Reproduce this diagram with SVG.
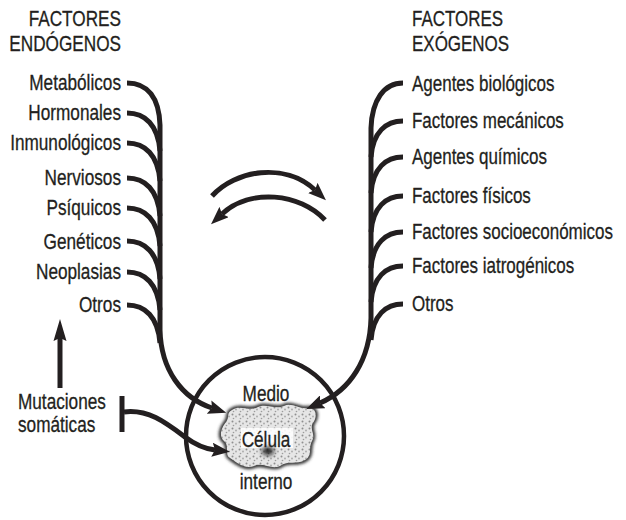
<svg xmlns="http://www.w3.org/2000/svg" width="626" height="520" viewBox="0 0 626 520">
  <style>
    .lbl { font-family: "Liberation Sans", Arial, sans-serif; font-size: 21.5px; fill: #231f20; stroke: #231f20; stroke-width: 0.3; }
    .end { text-anchor: end; }
    .mid { text-anchor: middle; }
    .wire { fill: none; stroke: #231f20; stroke-width: 5; stroke-linecap: butt; }
    .ring { fill: none; stroke: #231f20; stroke-width: 4.5; }
  </style>
  <defs>
    <marker id="head" viewBox="0 0 18 14" refX="3" refY="7" markerWidth="18" markerHeight="14" markerUnits="userSpaceOnUse" orient="auto">
      <path d="M0,0 L18,7 L0,14 L3,7 Z" fill="#231f20"/>
    </marker>
    <marker id="headUp" viewBox="0 0 22 14" refX="3" refY="7" markerWidth="22" markerHeight="14" markerUnits="userSpaceOnUse" orient="auto">
      <path d="M0,0.5 L22,7 L0,13.5 L3,7 Z" fill="#231f20"/>
    </marker>
    <pattern id="grain" width="7" height="7" patternUnits="userSpaceOnUse">
      <rect width="7" height="7" fill="#e6e6e6"/>
      <circle cx="1.5" cy="1.5" r="1" fill="#8f8f8f"/>
      <circle cx="5" cy="3.5" r="0.9" fill="#a8a8a8"/>
      <circle cx="2.5" cy="5.5" r="0.8" fill="#9c9c9c"/>
    </pattern>
    <filter id="soft" x="-20%" y="-20%" width="140%" height="140%">
      <feGaussianBlur stdDeviation="1.6"/>
    </filter>
    <filter id="softer" x="-100%" y="-100%" width="300%" height="300%">
      <feGaussianBlur stdDeviation="2.5"/>
    </filter>
  </defs>

  <rect width="626" height="520" fill="#ffffff"/>

  <!-- endogenous factors -->
  <g id="endogenos" transform="translate(121 0) scale(0.8 1)">
    <text class="lbl end" x="0" y="26">FACTORES</text>
    <text class="lbl end" x="0" y="51">ENDÓGENOS</text>
    <text class="lbl end" x="0" y="90.5">Metabólicos</text>
    <text class="lbl end" x="0" y="120.5">Hormonales</text>
    <text class="lbl end" x="0" y="150.5">Inmunológicos</text>
    <text class="lbl end" x="0" y="185.5">Nerviosos</text>
    <text class="lbl end" x="0" y="215.5">Psíquicos</text>
    <text class="lbl end" x="0" y="249.5">Genéticos</text>
    <text class="lbl end" x="0" y="279.5">Neoplasias</text>
    <text class="lbl end" x="0" y="312.5">Otros</text>
  </g>

  <!-- exogenous factors -->
  <g id="exogenos" transform="translate(412 0) scale(0.79 1)">
    <text class="lbl" x="0" y="26">FACTORES</text>
    <text class="lbl" x="0" y="51">EXÓGENOS</text>
    <text class="lbl" x="0" y="91">Agentes biológicos</text>
    <text class="lbl" x="0" y="128.5">Factores mecánicos</text>
    <text class="lbl" x="0" y="164.5">Agentes químicos</text>
    <text class="lbl" x="0" y="203.5">Factores físicos</text>
    <text class="lbl" x="0" y="239.5">Factores socioeconómicos</text>
    <text class="lbl" x="0" y="273.5">Factores iatrogénicos</text>
    <text class="lbl" x="0" y="311.5">Otros</text>
  </g>

  <!-- somatic mutations -->
  <g id="mutaciones" transform="translate(18 0) scale(0.8 1)">
    <text class="lbl" x="0" y="409.5">Mutaciones</text>
    <text class="lbl" x="0" y="432">somáticas</text>
  </g>

  <!-- cell inside the internal medium -->
  <g id="medio-interno">
    <circle class="ring" cx="265" cy="436" r="79"/>
    <path id="cell-outline" d="M232,410 C240,404 250,412 258,407 C266,403 275,410 284,406 C292,402 300,410 308,408 C316,407 318,416 313,423 C309,429 316,434 312,441 C308,448 313,456 305,460 C297,465 288,460 280,466 C272,470 262,462 254,466 C245,470 236,462 230,458 C224,454 230,446 224,441 C218,436 222,427 226,422 C230,417 226,413 232,410 Z" fill="none" stroke="#333333" stroke-width="4.5" filter="url(#soft)"/>
    <path d="M232,410 C240,404 250,412 258,407 C266,403 275,410 284,406 C292,402 300,410 308,408 C316,407 318,416 313,423 C309,429 316,434 312,441 C308,448 313,456 305,460 C297,465 288,460 280,466 C272,470 262,462 254,466 C245,470 236,462 230,458 C224,454 230,446 224,441 C218,436 222,427 226,422 C230,417 226,413 232,410 Z" fill="url(#grain)"/>
    <rect x="241" y="428" width="52" height="20" fill="#ffffff" opacity="0.85"/>
    <ellipse cx="268" cy="451" rx="6" ry="4" fill="#111111" filter="url(#softer)"/>
    <g transform="translate(266 0) scale(0.8 1)">
      <text class="lbl mid" x="0" y="401">Medio</text>
      <text class="lbl mid" x="0" y="447">Célula</text>
      <text class="lbl mid" x="0" y="489">interno</text>
    </g>
  </g>

  <!-- connectors -->
  <g id="connectors">
    <!-- endogenous trunk and branches -->
    <path class="wire" d="M127,83 C148,83 159,98 160,125 L160,330 C161,370 182,398 212,408" marker-end="url(#head)"/>
    <path class="wire" d="M127,113 C145,113 158,125 160,151"/>
    <path class="wire" d="M127,143 C145,143 158,155 160,181"/>
    <path class="wire" d="M127,178 C145,178 158,190 160,216"/>
    <path class="wire" d="M127,208 C145,208 158,220 160,246"/>
    <path class="wire" d="M127,241 C145,241 158,253 160,279"/>
    <path class="wire" d="M127,272 C145,272 158,284 160,310"/>
    <path class="wire" d="M127,305 C145,305 158,317 160,343"/>

    <!-- exogenous trunk and branches -->
    <path class="wire" d="M403,83 C384,83 372,100 371,128 L371,318 C370,360 350,390 320,403" marker-end="url(#head)"/>
    <path class="wire" d="M403,121 C386,121 373,132 371,157"/>
    <path class="wire" d="M403,157 C386,157 373,168 371,193"/>
    <path class="wire" d="M403,196 C386,196 373,207 371,232"/>
    <path class="wire" d="M403,232 C386,232 373,243 371,268"/>
    <path class="wire" d="M403,266 C386,266 373,277 371,302"/>
    <path class="wire" d="M403,304 C386,304 373,315 371,340"/>

    <!-- exchange arrows -->
    <path class="wire" d="M212,196 C235,170 285,162 315,190" marker-end="url(#head)"/>
    <path class="wire" d="M325,220 C300,193 250,188 222,214" marker-end="url(#head)"/>

    <!-- mutations feed back into endogenous factors -->
    <path class="wire" stroke-width="4" d="M60,388 L60,338" marker-end="url(#headUp)"/>

    <!-- mutations acting on the cell -->
    <path class="wire" d="M122,396 L122,432"/>
    <path class="wire" d="M124,412 C148,409 165,422 185,437 C197,446 206,449 215,450" marker-end="url(#head)"/>
  </g>
</svg>
